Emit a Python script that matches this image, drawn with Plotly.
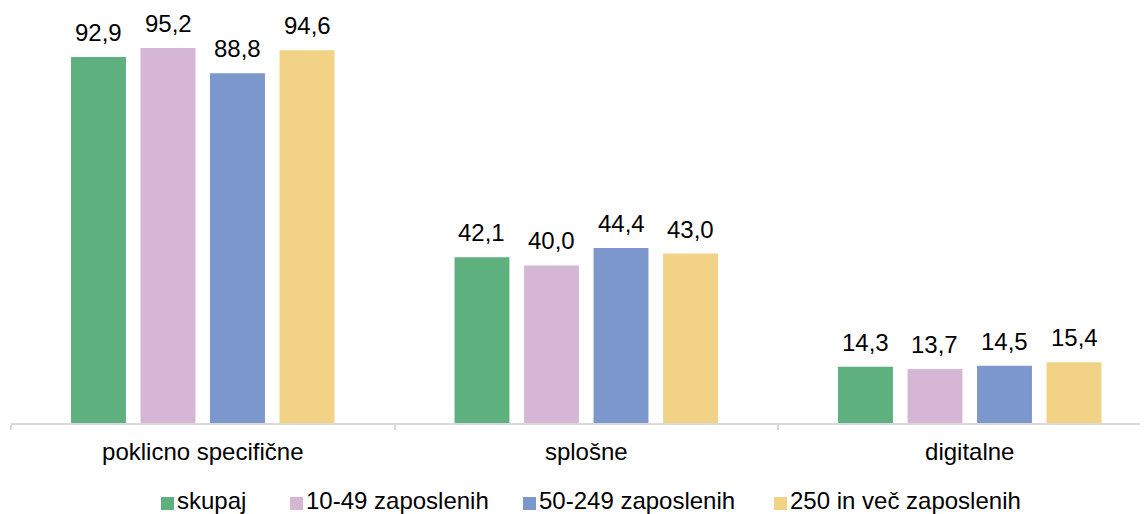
import plotly.graph_objects as go

categories = ["poklicno specifične", "splošne", "digitalne"]
series_names = ["skupaj", "10-49 zaposlenih", "50-249 zaposlenih", "250 in več zaposlenih"]
skupaj = [92.9, 42.1, 14.3]
z10_49 = [95.2, 40.0, 13.7]
z50_249 = [88.8, 44.4, 14.5]
z250 = [94.6, 43.0, 15.4]
colors = ["#5EB17F", "#D5B7D5", "#7B97CB", "#F2D386"]

values = [skupaj, z10_49, z50_249, z250]

FONT = "Liberation Sans, Arial, sans-serif"
FS = 24
BARGAP = 0.275
n = len(values)

W, H = 1140, 506
ML, MR, MT, MB = 3, 0, 21, 91
PLOT_BOTTOM = H - MB

fig = go.Figure()
for name, vals, col in zip(series_names, values, colors):
    fig.add_trace(go.Bar(
        x=categories, y=vals, name=name, marker_color=col,
        marker_line_width=0, showlegend=False,
        cliponaxis=False,
    ))

# data labels above each bar, placed through the axis scales
slot = (1 - BARGAP) / n
for k, vals in enumerate(values):
    for i, v in enumerate(vals):
        fig.add_annotation(
            x=i + (k - (n - 1) / 2) * slot, y=v, xref="x", yref="y",
            text=f"{v:.1f}".replace(".", ","), showarrow=False,
            yanchor="bottom", yshift=9,
            font=dict(size=FS, family=FONT, color="#000000"),
        )

# legend drawn below the axis (key squares + names)
legend_square_x = [153, 282, 515, 766]   # figure pixels
legend_y = 495                            # figure pixels (centre)
for name, col, sx in zip(series_names, colors, legend_square_x):
    fig.add_annotation(
        x=0, y=0, xref="paper", yref="paper", xanchor="left", yanchor="middle",
        xshift=sx - ML, yshift=PLOT_BOTTOM - legend_y,
        text=" ", width=13, height=13, bgcolor=col, borderpad=0, borderwidth=0,
        showarrow=False, font=dict(size=8),
    )
    fig.add_annotation(
        x=0, y=0, xref="paper", yref="paper", xanchor="left", yanchor="middle",
        xshift=sx + 15 - ML, yshift=PLOT_BOTTOM - legend_y + 3,
        text=name, showarrow=False, borderpad=0,
        font=dict(size=FS, family=FONT, color="#000000"),
    )

fig.update_layout(
    width=W, height=H,
    margin=dict(l=ML, r=MR, t=MT, b=MB),
    paper_bgcolor="white", plot_bgcolor="white",
    barmode="group", bargap=BARGAP, bargroupgap=0.21,
    font=dict(family=FONT, size=FS, color="#000000"),
    showlegend=False,
    xaxis=dict(type="category", range=[-0.5, 2.4648], showline=True,
               linecolor="#D9D9D9", linewidth=1.5, ticks="outside",
               tickson="boundaries", ticklen=5, tickcolor="#D9D9D9",
               tickwidth=1.5, showgrid=False, ticklabelstandoff=6,
               tickfont=dict(size=FS, family=FONT, color="#000000")),
    yaxis=dict(range=[0, 100], visible=False, showgrid=False),
)

fig.write_html("out.html")
